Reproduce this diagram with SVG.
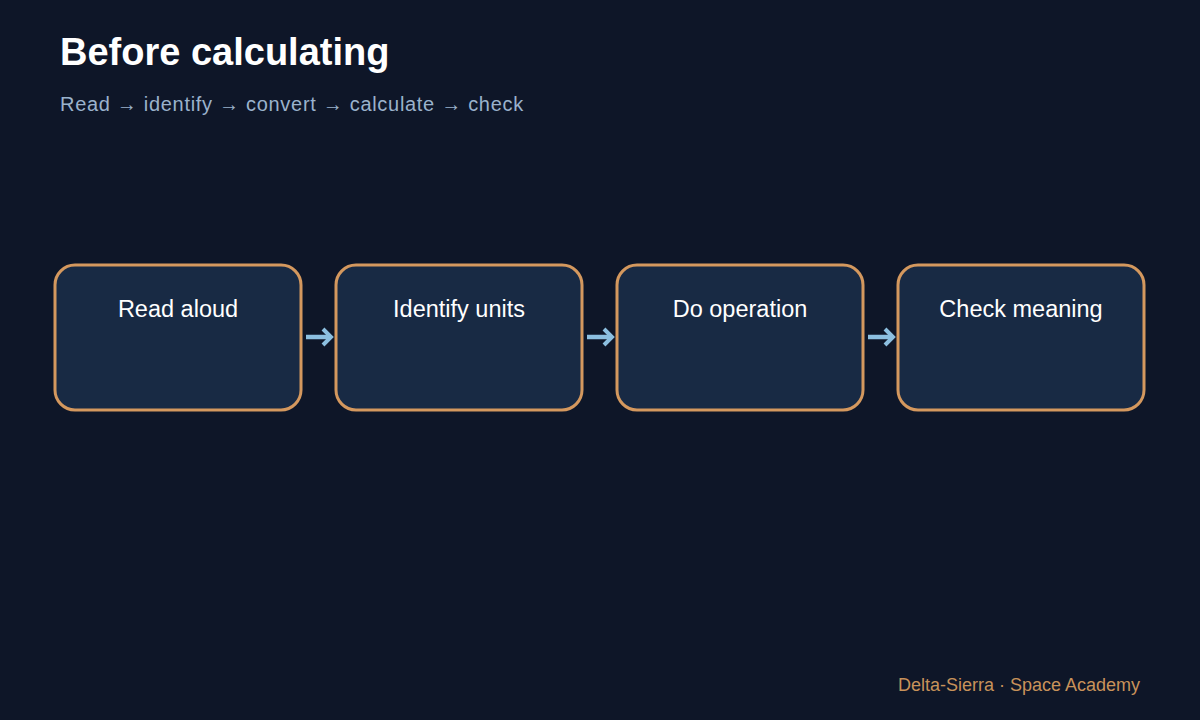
<svg xmlns="http://www.w3.org/2000/svg" width="1200" height="720" viewBox="0 0 1200 720">
<style>
.bg{fill:#0e1628}
.title{font-family:"Liberation Sans",Arial,sans-serif;font-weight:bold;font-size:38px;fill:#ffffff}
.sub{font-family:"Liberation Sans",Arial,sans-serif;font-size:20px;fill:#9ab2cc;letter-spacing:0.7px}
.foot{font-family:"Liberation Sans",Arial,sans-serif;font-size:18px;fill:#c8925a}
.box{fill:#182a44;stroke:#d4985e;stroke-width:3}
.lbl{font-family:"Liberation Sans",Arial,sans-serif;font-size:23.5px;fill:#ffffff;text-anchor:middle}
.conn{stroke:#8cbfe0;stroke-width:4.5;fill:none}
</style>
<defs>
<marker id="ah" viewBox="-12 -12 16 24" refX="0" refY="0" markerWidth="16" markerHeight="24" orient="auto" markerUnits="userSpaceOnUse">
<path d="M-8,-8 L0,0 L-8,8" fill="none" stroke="#8cbfe0" stroke-width="4"/>
</marker>
</defs>
<rect class="bg" x="0" y="0" width="1200" height="720"/>
<text class="title" x="60" y="65">Before calculating</text>
<text class="sub" x="60" y="111">Read → identify → convert → calculate → check</text>
<g id="connectors">
<line class="conn" x1="306" y1="337" x2="331" y2="337" marker-end="url(#ah)"/>
<line class="conn" x1="587" y1="337" x2="612" y2="337" marker-end="url(#ah)"/>
<line class="conn" x1="868" y1="337" x2="893" y2="337" marker-end="url(#ah)"/>
</g>
<g id="node1"><rect class="box" x="55" y="265" width="246" height="145" rx="20"/><text class="lbl" x="178" y="317">Read aloud</text></g>
<g id="node2"><rect class="box" x="336" y="265" width="246" height="145" rx="20"/><text class="lbl" x="459" y="317">Identify units</text></g>
<g id="node3"><rect class="box" x="617" y="265" width="246" height="145" rx="20"/><text class="lbl" x="740" y="317">Do operation</text></g>
<g id="node4"><rect class="box" x="898" y="265" width="246" height="145" rx="20"/><text class="lbl" x="1021" y="317">Check meaning</text></g>
<text class="foot" x="1140" y="691" text-anchor="end">Delta-Sierra · Space Academy</text>
</svg>
